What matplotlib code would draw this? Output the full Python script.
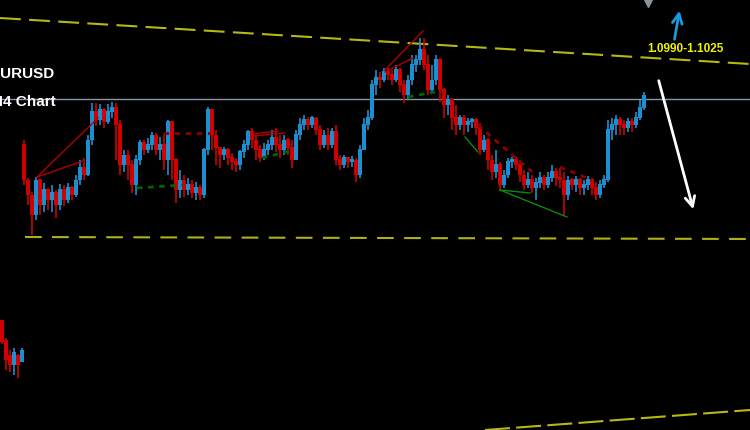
import matplotlib
matplotlib.use('Agg')
import matplotlib.pyplot as plt
import numpy as np

# EURUSD candles (open of each bar = close of the previous one)
first_open = 1.0905
closes = [1.0870, 1.0855, 1.0835, 1.0870, 1.0845, 1.0860, 1.0850, 1.0857, 1.0845, 1.0860,
          1.0850, 1.0862, 1.0855, 1.0870, 1.0882, 1.0875, 1.0910, 1.0938, 1.0930, 1.0940,
          1.0928, 1.0938, 1.0942, 1.0925, 1.0885, 1.0895, 1.0885, 1.0865, 1.0890, 1.0907,
          1.0900, 1.0905, 1.0915, 1.0900, 1.0905, 1.0890, 1.0928, 1.0890, 1.0860, 1.0870,
          1.0860, 1.0865, 1.0857, 1.0862, 1.0855, 1.0900, 1.0940, 1.0915, 1.0902, 1.0895,
          1.0900, 1.0892, 1.0888, 1.0885, 1.0898, 1.0905, 1.0918, 1.0910, 1.0900, 1.0892,
          1.0900, 1.0905, 1.0912, 1.0905, 1.0900, 1.0910, 1.0902, 1.0890, 1.0915, 1.0925,
          1.0930, 1.0925, 1.0932, 1.0920, 1.0905, 1.0915, 1.0905, 1.0918, 1.0890, 1.0885,
          1.0892, 1.0888, 1.0890, 1.0875, 1.0900, 1.0925, 1.0932, 1.0965, 1.0972, 1.0970,
          1.0978, 1.0975, 1.0970, 1.0980, 1.0965, 1.0955, 1.0970, 1.0985, 1.0990, 1.1000,
          1.0985, 1.0960, 1.0970, 1.0990, 1.0960, 1.0945, 1.0950, 1.0932, 1.0925, 1.0932,
          1.0925, 1.0928, 1.0930, 1.0922, 1.0900, 1.0910, 1.0890, 1.0878, 1.0885, 1.0865,
          1.0875, 1.0888, 1.0890, 1.0885, 1.0875, 1.0865, 1.0870, 1.0862, 1.0867, 1.0872,
          1.0865, 1.0872, 1.0878, 1.0872, 1.0870, 1.0855, 1.0870, 1.0865, 1.0870, 1.0862,
          1.0865, 1.0870, 1.0862, 1.0855, 1.0865, 1.0870, 1.0920, 1.0925, 1.0930, 1.0925,
          1.0922, 1.0928, 1.0925, 1.0932, 1.0942, 1.0955]
highs = [1.0910, 1.0872, 1.0858, 1.0873, 1.0865, 1.0867, 1.0862, 1.0865, 1.0860, 1.0866,
         1.0865, 1.0867, 1.0864, 1.0875, 1.0890, 1.0892, 1.0915, 1.0947, 1.0947, 1.0946,
         1.0942, 1.0946, 1.0948, 1.0947, 1.0930, 1.0900, 1.0900, 1.0890, 1.0895, 1.0910,
         1.0910, 1.0912, 1.0918, 1.0917, 1.0913, 1.0915, 1.0930, 1.0925, 1.0892, 1.0880,
         1.0875, 1.0872, 1.0870, 1.0868, 1.0865, 1.0902, 1.0943, 1.0938, 1.0920, 1.0902,
         1.0903, 1.0902, 1.0897, 1.0892, 1.0900, 1.0910, 1.0920, 1.0922, 1.0915, 1.0905,
         1.0907, 1.0910, 1.0920, 1.0922, 1.0915, 1.0915, 1.0912, 1.0910, 1.0920, 1.0932,
         1.0935, 1.0933, 1.0934, 1.0933, 1.0925, 1.0920, 1.0922, 1.0922, 1.0925, 1.0895,
         1.0895, 1.0892, 1.0894, 1.0892, 1.0905, 1.0932, 1.0940, 1.0970, 1.0980, 1.0978,
         1.0982, 1.0982, 1.0980, 1.0985, 1.0982, 1.0970, 1.0975, 1.0995, 1.0995, 1.1012,
         1.1012, 1.0995, 1.0985, 1.0995, 1.0992, 1.0962, 1.0955, 1.0952, 1.0945, 1.0935,
         1.0935, 1.0932, 1.0932, 1.0932, 1.0927, 1.0915, 1.0912, 1.0895, 1.0900, 1.0888,
         1.0880, 1.0892, 1.0893, 1.0893, 1.0890, 1.0880, 1.0878, 1.0875, 1.0872, 1.0878,
         1.0875, 1.0878, 1.0885, 1.0882, 1.0882, 1.0878, 1.0874, 1.0872, 1.0874, 1.0872,
         1.0870, 1.0874, 1.0872, 1.0868, 1.0870, 1.0875, 1.0930, 1.0932, 1.0935, 1.0933,
         1.0930, 1.0932, 1.0932, 1.0938, 1.0950, 1.0958]
lows = [1.0865, 1.0845, 1.0815, 1.0830, 1.0835, 1.0838, 1.0840, 1.0838, 1.0832, 1.0840,
        1.0844, 1.0847, 1.0850, 1.0853, 1.0865, 1.0870, 1.0874, 1.0905, 1.0924, 1.0925,
        1.0922, 1.0926, 1.0932, 1.0890, 1.0875, 1.0878, 1.0870, 1.0857, 1.0855, 1.0885,
        1.0895, 1.0897, 1.0900, 1.0895, 1.0890, 1.0880, 1.0875, 1.0870, 1.0847, 1.0852,
        1.0853, 1.0855, 1.0852, 1.0850, 1.0850, 1.0852, 1.0895, 1.0900, 1.0885, 1.0882,
        1.0890, 1.0885, 1.0880, 1.0878, 1.0880, 1.0892, 1.0900, 1.0902, 1.0890, 1.0888,
        1.0890, 1.0895, 1.0900, 1.0898, 1.0892, 1.0895, 1.0895, 1.0882, 1.0890, 1.0910,
        1.0920, 1.0920, 1.0922, 1.0915, 1.0900, 1.0902, 1.0900, 1.0902, 1.0885, 1.0880,
        1.0882, 1.0882, 1.0883, 1.0868, 1.0872, 1.0900, 1.0920, 1.0930, 1.0955, 1.0962,
        1.0968, 1.0970, 1.0965, 1.0968, 1.0958, 1.0947, 1.0950, 1.0965, 1.0978, 1.0985,
        1.0980, 1.0955, 1.0958, 1.0965, 1.0948, 1.0932, 1.0935, 1.0920, 1.0915, 1.0920,
        1.0915, 1.0918, 1.0922, 1.0915, 1.0895, 1.0898, 1.0880, 1.0870, 1.0872, 1.0860,
        1.0862, 1.0872, 1.0882, 1.0880, 1.0868, 1.0860, 1.0862, 1.0857, 1.0850, 1.0862,
        1.0860, 1.0862, 1.0868, 1.0864, 1.0862, 1.0835, 1.0850, 1.0860, 1.0858, 1.0855,
        1.0855, 1.0860, 1.0855, 1.0850, 1.0852, 1.0862, 1.0868, 1.0910, 1.0915, 1.0915,
        1.0915, 1.0918, 1.0918, 1.0922, 1.0930, 1.0940]

# bits of an older leg at the far left edge
frag_pos = [-5.5, -4.5, -3.5, -2.5, -1.5, -0.5]
frag_open = [1.0730, 1.0710, 1.0695, 1.0685, 1.0695, 1.0688]
frag_close = [1.0708, 1.0690, 1.0685, 1.0698, 1.0685, 1.0700]
frag_high = [1.0730, 1.0712, 1.0700, 1.0702, 1.0696, 1.0702]
frag_low = [1.0706, 1.0680, 1.0678, 1.0675, 1.0672, 1.0688]

last_price = 1.0951
target_text = '1.0990-1.1025'

# drawn lines: (bar, price) pairs
resist_line = [(-6, 1.1032), (181.5, 1.0986)]
support_line = [(0.25, 1.0813), (181.5, 1.0811)]
bottom_line = [(115.25, 1.0620), (181.5, 1.0640)]
red_solid = [[(3.25, 1.0873), (18.5, 1.0932)], [(3.25, 1.0873), (14.75, 1.0889)],
             [(57.25, 1.0914), (65.25, 1.0917)], [(57.25, 1.0916), (63.5, 1.0919)],
             [(90.25, 1.0980), (99.75, 1.1019)], [(90.25, 1.0978), (97.25, 1.0992)]]
red_dotted = [[(34.75, 1.0917), (46.5, 1.0917)], [(113.5, 1.0925), (127, 1.0878)],
              [(134, 1.0883), (142, 1.0870)]]
green_solid = [[(110.25, 1.0913), (113.5, 1.0898)], [(119, 1.0860), (126.5, 1.0857)],
               [(119, 1.0860), (135.75, 1.0833)]]
green_dotted = [[(28.25, 1.0862), (39.75, 1.0865)], [(59.5, 1.0892), (66.5, 1.0899)],
                [(96, 1.0953), (102.75, 1.0958)]]
up_arrow = [(162.5, 1.1008), (164, 1.1042)]
down_arrow = [(158.5, 1.0972), (167.5, 1.0838)]

UP = '#1b8fd0'
DOWN = '#d00000'

fig = plt.figure(figsize=(7.5, 4.3), dpi=100, facecolor='black')
ax = fig.add_axes([0, 0, 1, 1])
ax.set_facecolor('black')
ax.set_xlim(-6, 181.5)
ax.set_ylim(1.0620, 1.1050)
ax.axis('off')

opens = [first_open] + closes[:-1]
idx = np.arange(len(closes))
o = np.array(opens)
c = np.array(closes)
cols = [UP if cc >= oo else DOWN for oo, cc in zip(o, c)]
ax.vlines(idx, lows, highs, colors=cols, lw=1.2, zorder=3)
ax.bar(idx, np.abs(c - o) + 0.00005, bottom=np.minimum(o, c), width=0.8,
       color=cols, linewidth=0, zorder=4)

fo = np.array(frag_open)
fc = np.array(frag_close)
fcols = [UP if cc >= oo else DOWN for oo, cc in zip(fo, fc)]
ax.vlines(frag_pos, frag_low, frag_high, colors=fcols, lw=1.2, zorder=3)
ax.bar(frag_pos, np.abs(fc - fo), bottom=np.minimum(fo, fc), width=0.8,
       color=fcols, linewidth=0, zorder=4)

ax.axhline(last_price, color='#8797aa', lw=1, zorder=2)

def seg(pts, **kw):
    xs, ys = zip(*pts)
    ax.plot(xs, ys, **kw)

seg(resist_line, color='#b8b814', lw=1.5, dashes=(10, 4), zorder=2)
seg(support_line, color='#b0b018', lw=1.5, dashes=(8, 5), zorder=2)
seg(bottom_line, color='#b8b814', lw=1.5, dashes=(12, 3), zorder=2)
for s in red_solid:
    seg(s, color='#b00000', lw=1, zorder=5)
for s in red_dotted:
    seg(s, color='#8c0000', lw=2, dashes=(2, 2), zorder=5)
for s in green_solid:
    seg(s, color='#0a8a0a', lw=1, zorder=5)
for s in green_dotted:
    seg(s, color='#006400', lw=2, dashes=(2, 2), zorder=5)

ax.annotate('', xy=up_arrow[1], xytext=up_arrow[0],
            arrowprops=dict(arrowstyle='->,head_length=0.7,head_width=0.35',
                            color='#1e98de', lw=2))
ax.annotate('', xy=down_arrow[1], xytext=down_arrow[0],
            arrowprops=dict(arrowstyle='->,head_length=0.7,head_width=0.35',
                            color='white', lw=2))
ax.text(165.25, 1.1001, target_text, color='#f2f200', fontsize=8.5,
        fontweight='bold', family='Liberation Sans', ha='center', va='center')
ax.plot([156], [1.1048], marker='v', color='#8a929c', markersize=7, clip_on=False)

fig.text(54 / 750, 1 - 78 / 430, 'EURUSD', color='white', fontsize=11,
         fontweight='bold', family='Liberation Sans', ha='right', va='baseline')
fig.text(56 / 750, 1 - 106 / 430, 'H4 Chart', color='white', fontsize=11,
         fontweight='bold', family='Liberation Sans', ha='right', va='baseline')

fig.savefig('out.png', dpi=100, facecolor='black')
